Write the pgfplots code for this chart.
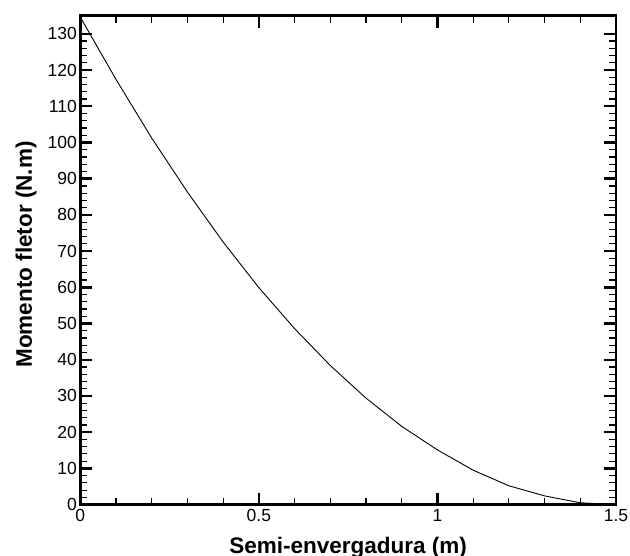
\documentclass[border=0pt]{standalone}
\usepackage{fontspec}
\setmainfont{Liberation Sans}
\usepackage{pgfplots}
\pgfplotsset{compat=1.18}
\begin{document}
\begin{tikzpicture}
\useasboundingbox (-80.3pt,-51.4pt) rectangle (549.7pt,504.6pt);
\begin{axis}[
  scale only axis,
  width=535.7pt, height=488.9pt,
  xmin=0, xmax=1.5, ymin=0, ymax=135,
  xtick={0,0.5,1,1.5}, minor x tick num=4,
  ytick={0,10,...,130}, minor y tick num=4,
  tick align=inside, tick pos=both,
  major tick length=12pt, minor tick length=7pt,
  every major tick/.append style={line width=2.4pt, black},
  every minor tick/.append style={line width=1.2pt, black},
  axis line style={line width=2.6pt},
  /pgf/number format/assume math mode=true,
  xticklabel style={font=\fontsize{17.5}{20}\selectfont, yshift=-1pt},
  yticklabel style={font=\fontsize{17.5}{20}\selectfont},
  xlabel={Semi-envergadura (m)},
  ylabel={Momento fletor (N.m)},
  xlabel style={font=\fontsize{22.5}{26}\selectfont\bfseries, at={(axis description cs:0.5,0)}, anchor=base, yshift=-48.5pt},
  ylabel style={font=\fontsize{22.5}{26}\selectfont\bfseries, at={(axis description cs:0,0.5)}, anchor=base, xshift=5.7pt, yshift=48.3pt},
]
\addplot[black, line width=0.9pt] coordinates {
(0,134.6) (0.1,117.4) (0.2,101.2) (0.3,86.3) (0.4,72.5) (0.5,59.9)
(0.6,48.6) (0.7,38.4) (0.8,29.4) (0.9,21.6) (1.0,15.1) (1.1,9.5)
(1.2,5.2) (1.3,2.4) (1.4,0.5) (1.5,0)
};
\end{axis}
\end{tikzpicture}
\end{document}
